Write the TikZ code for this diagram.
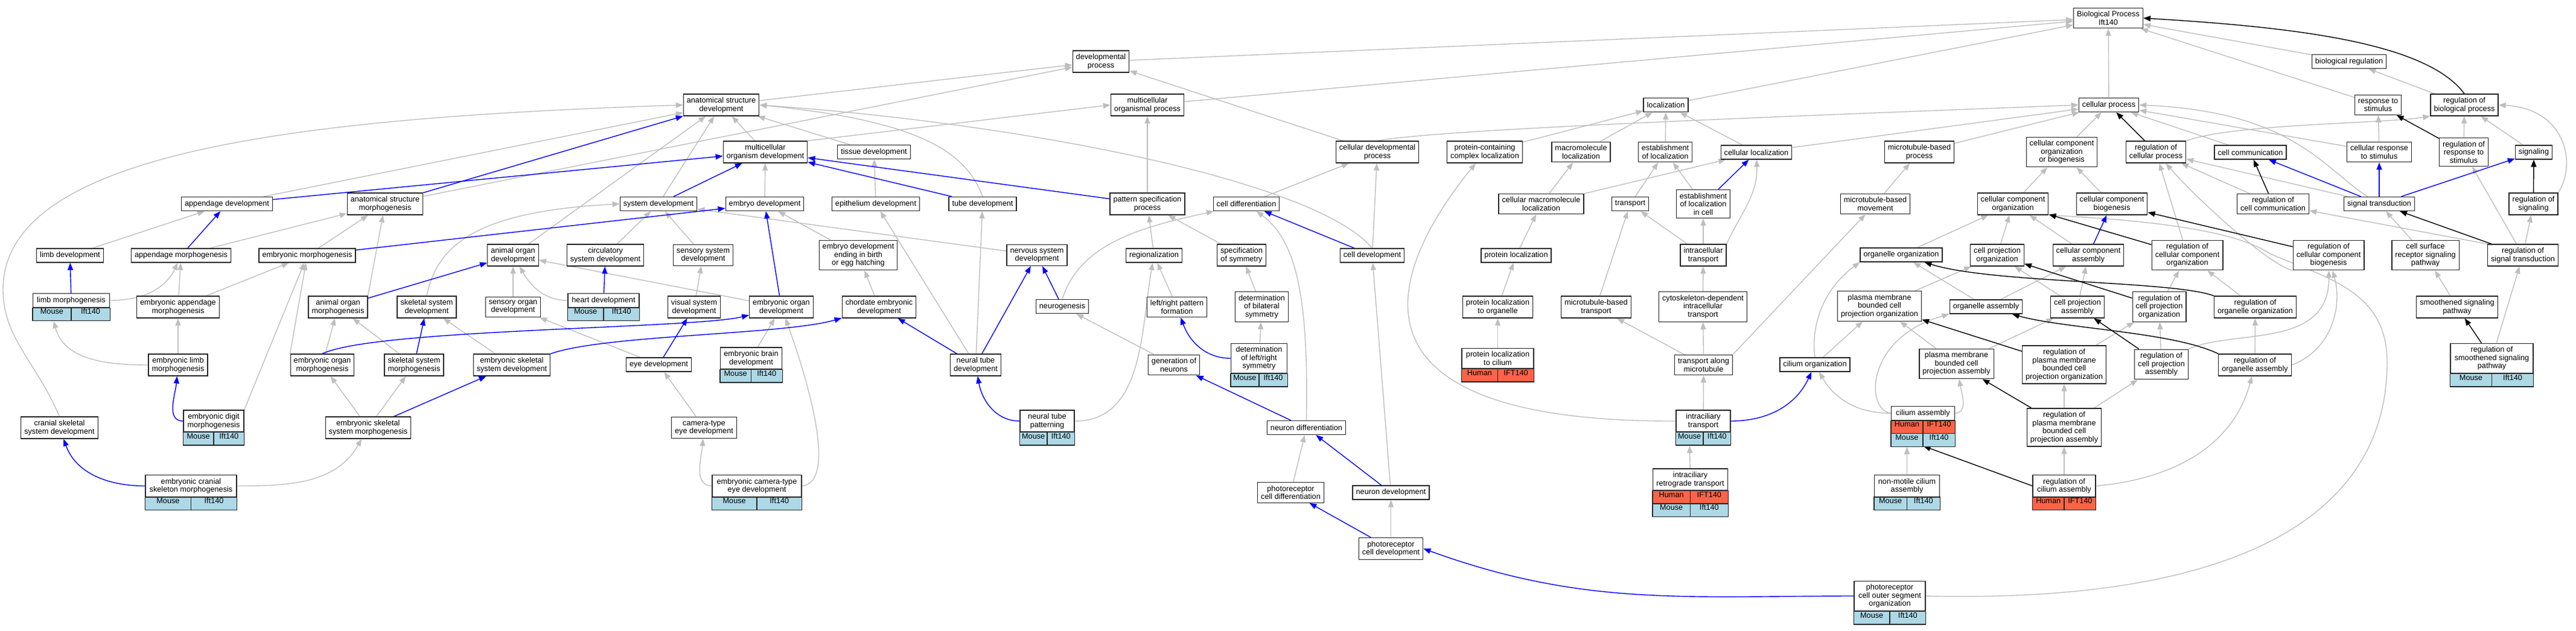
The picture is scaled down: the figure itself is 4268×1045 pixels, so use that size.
\documentclass[tikz,border=0pt]{standalone}
\usepackage{fontspec}
\setmainfont{Liberation Sans}
\usetikzlibrary{arrows.meta,fit,backgrounds}
\definecolor{edgegray}{RGB}{190,190,190}
\definecolor{mouseblue}{RGB}{173,216,230}
\definecolor{humanred}{RGB}{255,99,71}
\newcommand{\termfont}{\fontsize{12.7}{13.5}\selectfont}
% one row of species / gene cells under a term
\newcommand{\tagrow}[7]{%
  \coordinate (#1-#2nw) at ([yshift=#3]#1.south west);
  \coordinate (#1-#2n) at ([yshift=#3]#1.south);
  \coordinate (#1-#2s) at ([yshift=#4]#1.south);
  \coordinate (#1-#2se) at ([yshift=#4]#1.south east);
  \node [#5, fit = (#1-#2nw) (#1-#2s)] (#1-#2a) {#6};
  \node [#5, fit = (#1-#2n) (#1-#2se)] (#1-#2b) {#7};
}
\tikzset{
  term/.style = {draw = black!85, line width = 1.3pt, fill = white, align = center,
    inner xsep = 5.5pt, inner ysep = 5.3pt, minimum height = 23pt, font = \termfont},
  tagcell/.style = {draw = black!85, line width = 1.3pt, inner sep = 0pt, font = \termfont},
  mouse/.style = {tagcell, fill = mouseblue},
  human/.style = {tagcell, fill = humanred},
  isa/.style = {draw = edgegray, line width = 1.4pt, -{Triangle[length = 12pt, width = 9pt]}},
  partof/.style = {isa, draw = blue},
  regul/.style = {isa, draw = black},
}
\begin{document}
\begin{tikzpicture}[x = 1pt, y = 1pt]
%\draw [help lines, step = 100] (0,0) grid (4268,-1045);
    \useasboundingbox (0,0) rectangle (4268,-1045);
    % top rows
    \node [term] (bp) at (3493,-30) {Biological Process\\Ift140};
    \node [term] (devproc) at (1824,-102) {developmental\\process};
    \node [term] (bioreg) at (3892,-102) {biological regulation};
    \node [term] (asd) at (1195,-174) {anatomical structure\\development};
    \node [term] (mop) at (1901,-174) {multicellular\\organismal process};
    \node [term] (loc) at (2760,-174) {localization};
    \node [term] (cp) at (3494,-174) {cellular process};
    \node [term] (rts) at (3940,-174) {response to\\stimulus};
    \node [term] (rbp) at (4083,-174) {regulation of\\biological process};
    \node [term] (mod) at (1268,-252) {multicellular\\organism development};
    \node [term] (tissue) at (1448,-252) {tissue development};
    \node [term] (cdp) at (2282,-252) {cellular developmental\\process};
    \node [term] (pccl) at (2460,-252) {protein-containing\\complex localization};
    \node [term] (mml) at (2619.5,-252) {macromolecule\\localization};
    \node [term] (eol) at (2759,-252) {establishment\\of localization};
    \node [term] (cloc) at (2910,-252.5) {cellular localization};
    \node [term] (mbp) at (3180,-252) {microtubule-based\\process};
    \node [term] (ccob) at (3416,-252) {cellular component\\organization\\or biogenesis};
    \node [term] (rcp) at (3572,-252) {regulation of\\cellular process};
    \node [term] (ccomm) at (3728.5,-252.5) {cell communication};
    \node [term] (crs) at (3942,-252) {cellular response\\to stimulus};
    \node [term] (rrs) at (4082,-252) {regulation of\\response to\\stimulus};
    \node [term] (sig) at (4198,-252.5) {signaling};
    % middle rows
    \node [term] (appdev) at (376,-338) {appendage development};
    \node [term] (asm) at (638,-338) {anatomical structure\\morphogenesis};
    \node [term] (sysdev) at (1091,-338) {system development};
    \node [term] (embdev) at (1267,-338) {embryo development};
    \node [term] (epith) at (1451,-338) {epithelium development};
    \node [term] (tube) at (1628,-338) {tube development};
    \node [term] (pattern) at (1901,-338) {pattern specification\\process};
    \node [term] (celldiff) at (2065,-338) {cell differentiation};
    \node [term] (cmml) at (2553.5,-338) {cellular macromolecule\\localization};
    \node [term] (transport) at (2701,-338) {transport};
    \node [term] (eolc) at (2822,-338) {establishment\\of localization\\in cell};
    \node [term] (mbm) at (3107,-338) {microtubule-based\\movement};
    \node [term] (cco) at (3335,-338) {cellular component\\organization};
    \node [term] (ccb) at (3499,-338) {cellular component\\biogenesis};
    \node [term] (rcc) at (3766,-338) {regulation of\\cell communication};
    \node [term] (st) at (3942,-338) {signal transduction};
    \node [term] (rsig) at (4197.5,-338) {regulation of\\signaling};
    \node [term] (limbdev) at (116,-423.5) {limb development};
    \node [term] (appmorph) at (300,-423.5) {appendage morphogenesis};
    \node [term] (embmorph) at (509,-423.5) {embryonic morphogenesis};
    \node [term] (aodev) at (850,-423) {animal organ\\development};
    \node [term] (circ) at (1003,-423) {circulatory\\system development};
    \node [term] (sensys) at (1165,-423) {sensory system\\development};
    \node [term] (edebeh) at (1422,-423) {embryo development\\ending in birth\\or egg hatching};
    \node [term] (nsd) at (1718,-423) {nervous system\\development};
    \node [term] (region) at (1912,-423.5) {regionalization};
    \node [term] (specsym) at (2057,-423) {specification\\of symmetry};
    \node [term] (celldev) at (2273.5,-423.5) {cell development};
    \node [term] (protloc) at (2512,-423.5) {protein localization};
    \node [term] (ictrans) at (2822,-423) {intracellular\\transport};
    \node [term] (orgorg) at (3150,-422.5) {organelle organization};
    \node [term] (cpo) at (3309,-423) {cell projection\\organization};
    \node [term] (cca) at (3460,-423) {cellular component\\assembly};
    \node [term] (rcco) at (3624,-423) {regulation of\\cellular component\\organization};
    \node [term] (rccb) at (3858,-423) {regulation of\\cellular component\\biogenesis};
    \node [term] (csrsp) at (4018.5,-423) {cell surface\\receptor signaling\\pathway};
    \node [term] (rst) at (4180,-423) {regulation of\\signal transduction};
    \node [term, minimum width = 127pt] (limbmorph) at (118,-498) {limb morphogenesis};
    \node [term] (eapm) at (295,-509) {embryonic appendage\\morphogenesis};
    \node [term] (aom) at (560,-509) {animal organ\\morphogenesis};
    \node [term] (ssd) at (707,-509) {skeletal system\\development};
    \node [term] (sod) at (850,-509) {sensory organ\\development};
    \node [term, minimum width = 118pt] (heart) at (1000,-498) {heart development};
    \node [term] (vsd) at (1150,-509) {visual system\\development};
    \node [term] (eod) at (1294.5,-509) {embryonic organ\\development};
    \node [term] (ced) at (1456.5,-509) {chordate embryonic\\development};
    \node [term] (neurog) at (1760,-508) {neurogenesis};
    \node [term] (lrpf) at (1950,-509) {left/right pattern\\formation};
    \node [term] (dbs) at (2090.5,-508.5) {determination\\of bilateral\\symmetry};
    \node [term] (pbt) at (2481.5,-509) {protein localization\\to organelle};
    \node [term] (mbt) at (2644.5,-509) {microtubule-based\\transport};
    \node [term] (cdit) at (2821.5,-508.5) {cytoskeleton-dependent\\intracellular\\transport};
    \node [term] (pmbcpo) at (3114,-507.5) {plasma membrane\\bounded cell\\projection organization};
    \node [term] (orgasm) at (3290.5,-508.5) {organelle assembly};
    \node [term] (cpa) at (3442,-509) {cell projection\\assembly};
    \node [term] (rcpo) at (3577.5,-508.5) {regulation of\\cell projection\\organization};
    \node [term] (roo) at (3736.5,-509) {regulation of\\organelle organization};
    \node [term] (ssp) at (4071,-509) {smoothened signaling\\pathway};
    % lower rows
    \node [term] (elm) at (295,-605) {embryonic limb\\morphogenesis};
    \node [term] (eom) at (534,-605) {embryonic organ\\morphogenesis};
    \node [term] (ssm) at (686,-605) {skeletal system\\morphogenesis};
    \node [term] (essd) at (848,-605) {embryonic skeletal\\system development};
    \node [term] (eyedev) at (1091.5,-604.5) {eye development};
    \node [term, minimum width = 102pt] (ebd) at (1244.5,-594) {embryonic brain\\development};
    \node [term] (ntd) at (1616.5,-605) {neural tube\\development};
    \node [term] (gon) at (1945,-605) {generation of\\neurons};
    \node [term, minimum width = 93pt] (dlrs) at (2086,-594) {determination\\of left/right\\symmetry};
    \node [term, minimum width = 119pt] (plc) at (2481.5,-594) {protein localization\\to cilium};
    \node [term] (tam) at (2822.5,-605) {transport along\\microtubule};
    \node [term] (ciorg) at (3007,-604.5) {cilium organization};
    \node [term] (pmbcpa) at (3241.5,-603) {plasma membrane\\bounded cell\\projection assembly};
    \node [term] (rpmbcpo) at (3420,-604.5) {regulation of\\plasma membrane\\bounded cell\\projection organization};
    \node [term] (rcpa) at (3581,-604) {regulation of\\cell projection\\assembly};
    \node [term] (roa) at (3736,-605) {regulation of\\organelle assembly};
    \node [term, minimum width = 137pt] (rssp) at (4128.5,-594) {regulation of\\smoothened signaling\\pathway};
    \node [term] (cssd) at (98.5,-709) {cranial skeletal\\system development};
    \node [term, minimum width = 100pt] (edm) at (354,-698) {embryonic digit\\morphogenesis};
    \node [term] (essm) at (610,-709) {embryonic skeletal\\system morphogenesis};
    \node [term] (cted) at (1166.5,-709) {camera-type\\eye development};
    \node [term, minimum width = 90pt] (ntp) at (1735,-698) {neural tube\\patterning};
    \node [term] (ndiff) at (2164.5,-709) {neuron differentiation};
    \node [term, minimum width = 90pt] (ict) at (2822,-698) {intraciliary\\transport};
    \node [term, minimum width = 105pt] (ciasm) at (3186,-685) {cilium assembly};
    \node [term] (rpmbcpa) at (3420,-708.5) {regulation of\\plasma membrane\\bounded cell\\projection assembly};
    \node [term, minimum width = 151pt] (ecsm) at (316.5,-805.5) {embryonic cranial\\skeleton morphogenesis};
    \node [term, minimum width = 148pt] (ected) at (1254,-805.5) {embryonic camera-type\\eye development};
    \node [term] (pcd) at (2138.5,-816.5) {photoreceptor\\cell differentiation};
    \node [term] (ndev) at (2304.5,-816.5) {neuron development};
    \node [term, minimum width = 124pt] (irt) at (2800.5,-795) {intraciliary\\retrograde transport};
    \node [term, minimum width = 108pt] (nmca) at (3159.5,-805.5) {non-motile cilium\\assembly};
    \node [term, minimum width = 104pt] (rca) at (3420,-805.5) {regulation of\\cilium assembly};
    \node [term] (pcdev) at (2304.5,-909.5) {photoreceptor\\cell development};
    \node [term, minimum width = 118pt] (pcoso) at (3131,-988) {photoreceptor\\cell outer segment\\organization};
    % species rows
    \tagrow{limbmorph}{m}{0pt}{-21.5pt}{mouse}{Mouse}{Ift140}
    \tagrow{heart}{m}{0pt}{-21.5pt}{mouse}{Mouse}{Ift140}
    \tagrow{edm}{m}{0pt}{-21.5pt}{mouse}{Mouse}{Ift140}
    \tagrow{ecsm}{m}{0pt}{-21.5pt}{mouse}{Mouse}{Ift140}
    \tagrow{ebd}{m}{0pt}{-21.5pt}{mouse}{Mouse}{Ift140}
    \tagrow{ected}{m}{0pt}{-21.5pt}{mouse}{Mouse}{Ift140}
    \tagrow{ntp}{m}{0pt}{-21.5pt}{mouse}{Mouse}{Ift140}
    \tagrow{dlrs}{m}{0pt}{-21.5pt}{mouse}{Mouse}{Ift140}
    \tagrow{plc}{h}{0pt}{-21.5pt}{human}{Human}{IFT140}
    \tagrow{ict}{m}{0pt}{-21.5pt}{mouse}{Mouse}{Ift140}
    \tagrow{irt}{h}{0pt}{-21.5pt}{human}{Human}{IFT140}
    \tagrow{irt}{m}{-21.5pt}{-43pt}{mouse}{Mouse}{Ift140}
    \tagrow{ciasm}{h}{0pt}{-21.5pt}{human}{Human}{IFT140}
    \tagrow{ciasm}{m}{-21.5pt}{-43pt}{mouse}{Mouse}{Ift140}
    \tagrow{nmca}{m}{0pt}{-21.5pt}{mouse}{Mouse}{Ift140}
    \tagrow{rca}{h}{0pt}{-21.5pt}{human}{Human}{IFT140}
    \tagrow{rssp}{m}{0pt}{-21.5pt}{mouse}{Mouse}{Ift140}
    \tagrow{pcoso}{m}{0pt}{-21.5pt}{mouse}{Mouse}{Ift140}
    \begin{scope}[on background layer]
        % is_a
        \draw [isa] (devproc) -- (bp);
        \draw [isa] (mop) -- (bp);
        \draw [isa] (loc) -- (bp);
        \draw [isa] (cp) -- (bp);
        \draw [isa] (bioreg) -- (bp);
        \draw [isa] (rts) -- (bp);
        \draw [isa] (rbp) -- (bioreg);
        \draw [isa] (asd) -- (devproc);
        \draw [isa] (asm) -- (devproc);
        \draw [isa] (cdp) -- (devproc);
        \draw [isa] (cdp.north) .. controls (2380,-215) and (2900,-195) .. (cp.west);
        \draw [isa] (mod.north east) -- (mop.west);
        \draw [isa] (pattern) -- (mop);
        \draw [isa] (mod) -- (asd);
        \draw [isa] (tissue) -- (asd);
        \draw [isa] (sysdev) -- (asd);
        \draw [isa] (aodev) -- (asd);
        \draw [isa] (tube.north) .. controls (1600,-250) and (1520,-200) .. (asd.east);
        \draw [isa] (appdev) -- (asd);
        \draw [isa] (cssd.north) .. controls (60,-600) and (5,-560) .. (5,-480)
            .. controls (5,-250) and (500,-195) .. (asd.west);
        \draw [isa] (limbdev) -- (appdev);
        \draw [isa] (appmorph) -- (asm);
        \draw [isa] (embmorph) -- (asm);
        \draw [isa] (aom.north east) -- (asm);
        \draw [isa] (limbmorph.east) to[out=0,in=-115] (appmorph);
        \draw [isa] (eapm) -- (appmorph);
        \draw [isa] (eapm) -- (embmorph);
        \draw [isa] (elm.west) to[out=180,in=-75] (limbmorph-ma);
        \draw [isa] (elm) -- (eapm);
        \draw [isa] (eom.north west) -- (embmorph);
        \draw [isa] (edm.north east) -- (embmorph);
        \draw [isa] (eom) -- (aom);
        \draw [isa] (ssm) -- (aom);
        \draw [isa] (essd) -- (ssd);
        \draw [isa] (essm) -- (eom);
        \draw [isa] (essm) -- (ssm);
        \draw [isa] (ecsm.east) to[out=0,in=-120] (essm);
        \draw [isa] (ssd.north) .. controls (725,-400) and (800,-350) .. (sysdev.west);
        \draw [isa] (circ) -- (sysdev);
        \draw [isa] (sensys) -- (sysdev);
        \draw [isa] (nsd) -- (sysdev);
        \draw [isa] (sod) -- (aodev);
        \draw [isa] (heart.west) to[out=180,in=-60] (aodev);
        \draw [isa] (eod) -- (aodev);
        \draw [isa] (eyedev) -- (sod);
        \draw [isa] (vsd) -- (sensys);
        \draw [isa] (cted) -- (eyedev);
        \draw [isa] (ected.west) to[out=180,in=-95] (cted);
        \draw [isa] (ected.east) .. controls (1390,-800) and (1335,-620) .. (eod);
        \draw [isa] (ebd) -- (eod);
        \draw [isa] (embdev) -- (mod);
        \draw [isa] (edebeh) -- (embdev);
        \draw [isa] (ced) -- (edebeh);
        \draw [isa] (epith) -- (tissue);
        \draw [isa] (ntd) -- (epith);
        \draw [isa] (ntd) -- (tube);
        \draw [isa] (region) -- (pattern);
        \draw [isa] (specsym) -- (pattern);
        \draw [isa] (lrpf) -- (region);
        \draw [isa] (ntp.east) to[out=0,in=-100] (region);
        \draw [isa] (dbs) -- (specsym);
        \draw [isa] (dlrs) -- (dbs);
        \draw [isa] (gon) -- (neurog);
        \draw [isa] (neurog.north) .. controls (1790,-400) and (1900,-375) .. (celldiff);
        \draw [isa] (ndiff.north) .. controls (2168,-500) and (2150,-400) .. (celldiff);
        \draw [isa] (celldiff) -- (cdp);
        \draw [isa] (celldev) -- (cdp);
        \draw [isa] (celldev.north) .. controls (2180,-300) and (1700,-205) .. (asd.east);
        \draw [isa] (ndev) -- (celldev);
        \draw [isa] (pcd) -- (ndiff);
        \draw [isa] (pcdev) -- (ndev);
        \draw [isa] (pccl) -- (loc);
        \draw [isa] (mml) -- (loc);
        \draw [isa] (eol) -- (loc);
        \draw [isa] (cloc) -- (loc);
        \draw [isa] (cloc) -- (cp);
        \draw [isa] (mbp) -- (cp);
        \draw [isa] (cmml) -- (mml);
        \draw [isa] (cmml) -- (cloc);
        \draw [isa] (transport) -- (eol);
        \draw [isa] (eolc) -- (eol);
        \draw [isa] (protloc) -- (cmml);
        \draw [isa] (ictrans) -- (transport);
        \draw [isa] (ictrans) -- (eolc);
        \draw [isa] (ictrans.north east) to[out=65,in=-88] (cloc);
        \draw [isa] (pbt) -- (protloc);
        \draw [isa] (plc) -- (pbt);
        \draw [isa] (mbt) -- (transport);
        \draw [isa] (cdit) -- (ictrans);
        \draw [isa] (tam) -- (cdit);
        \draw [isa] (tam) -- (mbt);
        \draw [isa] (tam.north east) -- (mbm);
        \draw [isa] (mbm) -- (mbp);
        \draw [isa] (ict) -- (tam);
        \draw [isa] (ict.west) .. controls (2150,-700) and (2340,-400) .. (pccl);
        \draw [isa] (irt) -- (ict-ma);
        \draw [isa] (ccob) -- (cp);
        \draw [isa] (cco) -- (ccob);
        \draw [isa] (ccb) -- (ccob);
        \draw [isa] (orgorg) -- (cco);
        \draw [isa] (cpo) -- (cco);
        \draw [isa] (cca) -- (cco);
        \draw [isa] (ciorg.north) .. controls (3000,-540) and (3020,-480) .. (orgorg.south west);
        \draw [isa] (ciorg) -- (pmbcpo);
        \draw [isa] (pmbcpo) -- (cpo);
        \draw [isa] (orgasm) -- (orgorg);
        \draw [isa] (orgasm) -- (cca);
        \draw [isa] (cpa) -- (cpo);
        \draw [isa] (cpa) -- (cca);
        \draw [isa] (pmbcpa) -- (pmbcpo);
        \draw [isa] (pmbcpa) -- (cpa);
        \draw [isa] (ciasm.west) to[out=180,in=-60] (ciorg);
        \draw [isa] (ciasm.east) to[out=0,in=-80] (pmbcpa);
        \draw [isa] (ciasm.west) .. controls (3090,-680) and (3090,-560) .. (orgasm.south west);
        \draw [isa] (nmca) -- (ciasm-ma);
        \draw [isa] (rcpo) -- (rcco);
        \draw [isa] (roo) -- (rcco);
        \draw [isa] (rpmbcpo) -- (rcpo);
        \draw [isa] (rcpa) -- (rcpo);
        \draw [isa] (rcpa.north east) .. controls (3700,-545) and (3860,-580) .. (rccb);
        \draw [isa] (roa) -- (roo);
        \draw [isa] (roa.east) to[out=20,in=-75] (rccb);
        \draw [isa] (rpmbcpa) -- (rpmbcpo);
        \draw [isa] (rpmbcpa) -- (rcpa);
        \draw [isa] (rca) -- (rpmbcpa);
        \draw [isa] (rca.east) to[out=5,in=-105] (roa);
        \draw [isa] (pcoso.east) .. controls (3700,-1000) and (3955,-860) .. (3955,-600)
            .. controls (3955,-480) and (3850,-460) .. (3760,-420)
            .. controls (3700,-380) and (3550,-365) .. (cco.south east);
        \draw [isa] (rcco) -- (rcp);
        \draw [isa] (rccb.south west) .. controls (3760,-440) and (3640,-330) .. (rcp);
        \draw [isa] (rcc) -- (rcp);
        \draw [isa] (ccomm) -- (cp);
        \draw [isa] (crs) -- (cp);
        \draw [isa] (crs) -- (rts);
        \draw [isa] (st) .. controls (3850,-280) and (3800,-185) .. (cp.east);
        \draw [isa] (st) -- (rcp);
        \draw [isa] (rcp.north east) .. controls (3700,-205) and (3950,-205) .. (rbp.south west);
        \draw [isa] (rrs) -- (rbp);
        \draw [isa] (sig) -- (rbp);
        \draw [isa] (rsig.north east) .. controls (4270,-270) and (4250,-180) .. (rbp.east);
        \draw [isa] (rst) -- (rsig);
        \draw [isa] (rst) -- (rrs);
        \draw [isa] (rst.north west) -- (rcc);
        \draw [isa] (csrsp) -- (st);
        \draw [isa] (ssp) -- (csrsp);
        \draw [isa] (rssp) -- (rst);
        % part_of
        \draw [partof] (limbmorph) -- (limbdev);
        \draw [partof] (appmorph) -- (appdev);
        \draw [partof] (appdev) -- (mod);
        \draw [partof] (asm) -- (asd);
        \draw [partof] (embmorph) -- (embdev);
        \draw [partof] (aom) -- (aodev);
        \draw [partof] (heart) -- (circ);
        \draw [partof] (edm.west) to[out=180,in=-95] (elm);
        \draw [partof] (eom.north) .. controls (620,-545) and (1150,-545) .. (eod);
        \draw [partof] (ssm) -- (ssd);
        \draw [partof] (essm) -- (essd);
        \draw [partof] (essd.north east) .. controls (1000,-555) and (1300,-555) .. (ced);
        \draw [partof] (ecsm.west) to[out=180,in=-70] (cssd);
        \draw [partof] (sysdev) -- (mod);
        \draw [partof] (tube) -- (mod);
        \draw [partof] (pattern) -- (mod);
        \draw [partof] (eod) -- (embdev);
        \draw [partof] (eyedev) -- (vsd);
        \draw [partof] (ntd) -- (ced);
        \draw [partof] (ntd) -- (nsd);
        \draw [partof] (neurog) -- (nsd);
        \draw [partof] (ntp.west) to[out=180,in=-80] (ntd);
        \draw [partof] (dlrs.west) to[out=180,in=-70] (lrpf);
        \draw [partof] (ndiff) -- (gon);
        \draw [partof] (celldev) -- (celldiff);
        \draw [partof] (ndev) -- (ndiff);
        \draw [partof] (pcdev) -- (pcd);
        \draw [partof] (pcoso.west) to[out=180,in=-20] (pcdev.east);
        \draw [partof] (eolc) -- (cloc);
        \draw [partof] (ict.east) to[out=0,in=-115] (ciorg);
        \draw [partof] (cca) -- (ccb);
        \draw [partof] (st) -- (ccomm);
        \draw [partof] (st) -- (crs);
        \draw [partof] (st) -- (sig);
        % regulates
        \draw [regul] (rbp.north) .. controls (4020,-70) and (3800,-45) .. (bp.east);
        \draw [regul] (rcp) -- (cp);
        \draw [regul] (rrs) -- (rts);
        \draw [regul] (rsig) -- (sig);
        \draw [regul] (rcc) -- (ccomm);
        \draw [regul] (rst) -- (st);
        \draw [regul] (rssp) -- (ssp);
        \draw [regul] (rcco) -- (cco);
        \draw [regul] (rccb) -- (ccb);
        \draw [regul] (rcpo) -- (cpo);
        \draw [regul] (roo.north west) .. controls (3600,-465) and (3300,-470) .. (orgorg);
        \draw [regul] (rpmbcpo) -- (pmbcpo);
        \draw [regul] (rcpa) -- (cpa);
        \draw [regul] (roa.north west) .. controls (3600,-550) and (3420,-545) .. (orgasm);
        \draw [regul] (rpmbcpa) -- (pmbcpa);
        \draw [regul] (rca.west) -- (ciasm-ma);
    \end{scope}
\end{tikzpicture}
\end{document}
